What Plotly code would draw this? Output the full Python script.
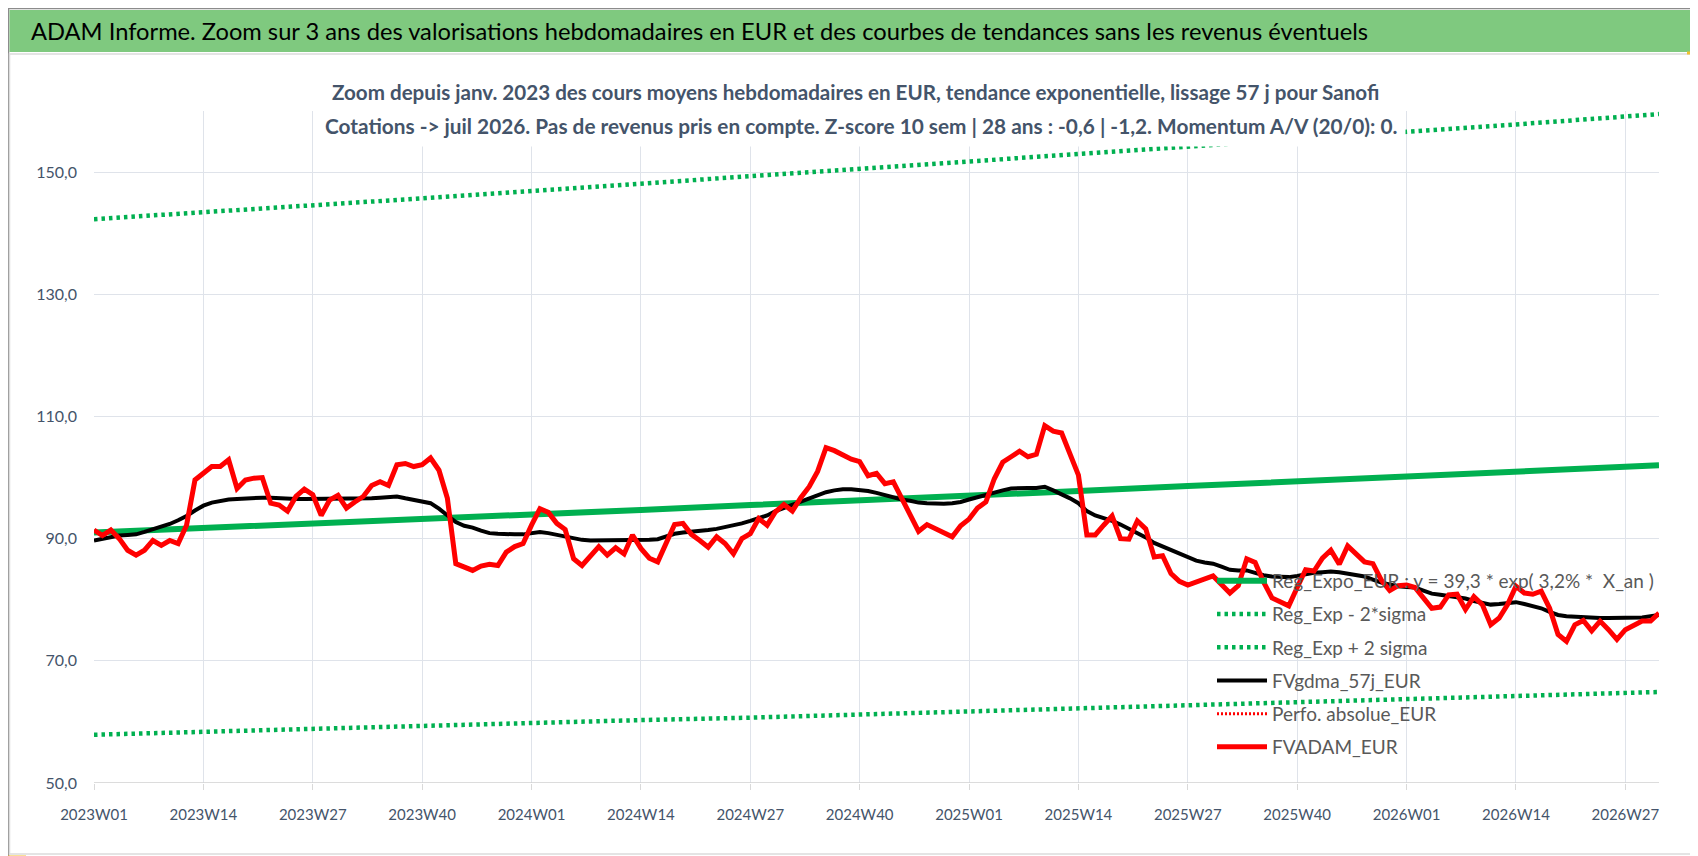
import plotly.graph_objects as go

# ==========================================
# 1. Données
# ==========================================
semaines = [f"{a}W{s:02d}" for a in (2023, 2024, 2025) for s in range(1, 53)]
semaines += [f"2026W{s:02d}" for s in range(1, 32)]

etiquettes_x = semaines[::13]

fvadam_eur = [
    91.4, 90.5, 91.4, 90.0, 88.1, 87.3, 88.1, 89.7, 88.9, 89.7,
    89.2, 92.2, 99.6, 100.7, 101.8, 101.8, 102.9, 98.2, 99.6, 99.9,
    100.0, 95.8, 95.5, 94.5, 96.9, 98.1, 97.2, 93.8, 96.3, 97.1,
    95.0, 96.0, 96.9, 98.7, 99.3, 98.7, 102.1, 102.3, 101.8, 102.1,
    103.2, 101.2, 96.6, 85.9, 85.3, 84.8, 85.5, 85.8, 85.6, 87.8,
    88.7, 89.2, 92.2, 94.9, 94.3, 92.5, 91.5, 86.7, 85.6, 87.3,
    88.7, 87.3, 88.5, 87.5, 90.6, 88.4, 86.8, 86.2, 89.5, 92.3,
    92.5, 90.7, 89.7, 88.6, 90.3, 89.2, 87.5, 90.0, 90.8, 93.3,
    92.2, 94.4, 95.6, 94.5, 96.7, 98.5, 101.0, 104.9, 104.4, 103.7,
    103.0, 102.6, 100.3, 100.7, 99.0, 99.3, 96.5, 93.6, 91.2, 92.3,
    91.6, 91.1, 90.3, 92.1, 93.2, 95.0, 96.0, 99.8, 102.5, 103.4,
    104.3, 103.4, 103.8, 108.5, 107.6, 107.3, 103.7, 100.4, 90.6, 90.6,
    92.2, 93.7, 90.0, 89.9, 92.9, 91.6, 87.0, 87.2, 84.3, 83.0,
    82.4, 82.9, 83.4, 83.9, 82.5, 81.1, 82.3, 86.7, 86.1, 82.9,
    80.3, 79.7, 79.0, 82.0, 84.9, 84.7, 86.8, 88.1, 85.8, 88.8,
    87.4, 86.2, 85.9, 83.2, 81.5, 82.3, 82.4, 82.0, 80.3, 78.6,
    78.8, 80.8, 80.9, 78.4, 80.5, 79.2, 75.9, 77.0, 79.2, 82.2,
    81.1, 80.9, 81.4, 78.6, 74.3, 73.2, 75.9, 76.6, 74.9, 76.5,
    75.1, 73.5, 75.1, 75.7, 76.5, 76.5, 77.8,
]

fvgdma_57j_eur = [
    89.7, 90.0, 90.3, 90.5, 90.6, 90.7, 91.1, 91.5, 91.9, 92.4,
    93.0, 93.7, 94.6, 95.4, 95.9, 96.2, 96.4, 96.5, 96.6, 96.7,
    96.7, 96.7, 96.6, 96.5, 96.5, 96.5, 96.5, 96.5, 96.5, 96.5,
    96.6, 96.6, 96.6, 96.6, 96.7, 96.8, 96.9, 96.6, 96.3, 96.0,
    95.8, 94.9, 93.8, 92.7, 92.1, 91.8, 91.3, 90.9, 90.8, 90.7,
    90.7, 90.7, 90.9, 91.1, 90.9, 90.6, 90.4, 90.1, 89.8, 89.7,
    89.7, 89.7, 89.7, 89.7, 89.7, 89.8, 89.8, 89.9, 90.3, 90.8,
    91.0, 91.1, 91.2, 91.4, 91.6, 91.9, 92.1, 92.5, 92.9, 93.3,
    93.8, 94.5, 95.0, 95.5, 96.0, 96.5, 97.0, 97.6, 97.9, 98.1,
    98.1, 98.0, 97.8, 97.5, 97.1, 96.8, 96.4, 96.2, 95.9, 95.8,
    95.7, 95.7, 95.8, 96.0, 96.4, 96.8, 97.1, 97.5, 97.9, 98.2,
    98.3, 98.3, 98.3, 98.5, 97.9, 97.3, 96.6, 95.8, 94.5, 93.8,
    93.4, 92.9, 92.3, 91.6, 90.9, 90.2, 89.3, 88.7, 88.1, 87.5,
    86.9, 86.4, 86.1, 85.9, 85.4, 84.9, 84.8, 84.8, 84.4, 84.0,
    83.8, 83.7, 83.7, 83.9, 84.2, 84.4, 84.5, 84.6, 84.5, 84.3,
    84.1, 83.8, 83.3, 82.8, 82.5, 82.2, 82.1, 82.0, 81.5, 81.0,
    80.8, 80.6, 80.5, 80.2, 79.8, 79.5, 79.2, 79.3, 79.5, 79.6,
    79.3, 78.9, 78.6, 78.0, 77.5, 77.3, 77.2, 77.1, 77.1, 77.0,
    77.0, 77.0, 77.0, 77.1, 77.1, 77.3, 77.5,
]

perfo_absolue_eur = [None]  # aucune valeur visible sur le graphique

# tendances : lues aux semaines étiquetées + dernière semaine
semaines_reg = etiquettes_x + [semaines[-1]]
reg_expo_eur = [91.0, 91.7, 92.5, 93.2, 94.0, 94.7, 95.5, 96.2, 97.0,
                97.8, 98.6, 99.4, 100.1, 100.9, 101.8, 102.0]
reg_moins_2s = [57.9, 58.4, 58.8, 59.3, 59.8, 60.3, 60.7, 61.2, 61.7,
                62.2, 62.7, 63.2, 63.7, 64.2, 64.7, 64.9]
reg_plus_2s = [142.3, 143.4, 144.6, 145.7, 146.9, 148.1, 149.3, 150.5, 151.7,
               152.9, 154.1, 155.3, 156.6, 157.8, 159.1, 159.5]

# ==========================================
# 2. Mise en page (pixels -> coordonnées papier)
# ==========================================
W, H = 1698, 856
ML, MR, MT, MB = 86, 47, 103, 81
PW, PH = W - ML - MR, H - MT - MB


def px(x):
    return (x - ML) / PW


def py(y):
    return 1 - (y - MT) / PH


POLICE = "Lato, Noto Sans, sans-serif"
VERT = "#00B050"
GRIS_TXT = "#44546A"
POINTILLE = "3.5px,4px"

fig = go.Figure()

fig.add_trace(go.Scatter(
    x=semaines_reg, y=reg_expo_eur, mode="lines", legendgroup="a",
    name="Reg_Expo_EUR : y = 39,3 * exp( 3,2% *\u00a0 X_an )",
    line=dict(color=VERT, width=6)))
fig.add_trace(go.Scatter(
    x=semaines_reg, y=reg_moins_2s, mode="lines", legendgroup="b",
    name="Reg_Exp - 2*sigma",
    line=dict(color=VERT, width=4.5, dash=POINTILLE)))
fig.add_trace(go.Scatter(
    x=semaines_reg, y=reg_plus_2s, mode="lines", legendgroup="c",
    name="Reg_Exp + 2 sigma",
    line=dict(color=VERT, width=4.5, dash=POINTILLE)))
fig.add_trace(go.Scatter(
    x=semaines, y=fvgdma_57j_eur, mode="lines", legendgroup="d",
    name="FVgdma_57j_EUR", line=dict(color="black", width=4)))
fig.add_trace(go.Scatter(
    x=semaines[:len(perfo_absolue_eur)], y=perfo_absolue_eur, mode="lines",
    legendgroup="e", name="Perfo. absolue_EUR",
    line=dict(color="#FF0000", width=3, dash="2px,2px")))
fig.add_trace(go.Scatter(
    x=semaines, y=fvadam_eur, mode="lines", legendgroup="f",
    name="FVADAM_EUR", line=dict(color="#FF0000", width=5)))

# cadre, bandeau vert, marques jaunes
shapes = [
    dict(type="rect", xref="paper", yref="paper", x0=px(0.5), x1=px(W - 0.5),
         y0=py(0.5), y1=py(H - 0.5), line=dict(color="#8c8c8c", width=1.5), layer="below"),
    dict(type="rect", xref="paper", yref="paper", x0=px(1.5), x1=px(1696), y0=py(2),
         y1=py(44), fillcolor="#7FC97F", line=dict(width=0), layer="below"),
    dict(type="rect", xref="paper", yref="paper", x0=px(1.5), x1=px(1692), y0=py(46),
         y1=py(846), line=dict(color="#dcdcdc", width=1.5), layer="below"),
    dict(type="path", xref="paper", yref="paper",
         path=f"M{px(1679)},{py(45)} L{px(1694)},{py(45)} L{px(1694)},{py(58)}",
         line=dict(color="#F2C12E", width=3)),
    dict(type="path", xref="paper", yref="paper",
         path=f"M{px(1694)},{py(746)} L{px(1694)},{py(850)} L{px(1668)},{py(850)}",
         line=dict(color="#F2C12E", width=3)),
    dict(type="line", xref="paper", yref="paper", x0=px(0), x1=px(18), y0=py(849),
         y1=py(849), line=dict(color="#F2C12E", width=3)),
    dict(type="line", xref="paper", yref="paper", x0=px(656), x1=px(770), y0=py(851),
         y1=py(851), line=dict(color="#F4EE7A", width=2)),
]

annotations = [
    dict(text="ADAM Informe. Zoom sur 3 ans des valorisations hebdomadaires en EUR "
              "et des courbes de tendances sans les revenus éventuels",
         xref="paper", yref="paper", x=px(21), y=py(23), xanchor="left", yanchor="middle",
         showarrow=False, font=dict(family=POLICE, size=23.7, color="black")),
    dict(text="<b>Zoom depuis janv. 2023 des cours moyens hebdomadaires en EUR, "
              "tendance exponentielle, lissage 57 j pour Sanofi</b>",
         xref="paper", yref="paper", x=px(847), y=py(84), xanchor="center", yanchor="middle",
         showarrow=False, bgcolor="white", borderpad=3,
         font=dict(family=POLICE, size=20.6, color=GRIS_TXT)),
    dict(text="<b>Cotations -&gt; juil 2026. Pas de revenus pris en compte. Z-score 10 sem | "
              "28 ans : -0,6 | -1,2. Momentum A/V (20/0): 0.</b>",
         xref="paper", yref="paper", x=px(853), y=py(117), xanchor="center", yanchor="middle",
         showarrow=False, bgcolor="white", borderpad=8,
         font=dict(family=POLICE, size=20.8, color=GRIS_TXT)),
]

fig.update_layout(
    width=W, height=H,
    margin=dict(l=ML, r=MR, t=MT, b=MB, autoexpand=False),
    paper_bgcolor="white", plot_bgcolor="white",
    separators=", ",
    showlegend=True,
    legend=dict(x=px(1204), y=py(554), xanchor="left", yanchor="top",
                bgcolor="rgba(0,0,0,0)", itemwidth=50, tracegroupgap=5.5,
                font=dict(family=POLICE, size=19, color="#595959")),
    shapes=shapes,
    annotations=annotations,
    hovermode=False,
)

fig.update_xaxes(
    type="category", categoryorder="array", categoryarray=semaines,
    range=[0, len(semaines) - 1], automargin=False,
    tickmode="array", tickvals=etiquettes_x, ticktext=etiquettes_x,
    showgrid=True, gridcolor="#dfe3ea", gridwidth=1,
    ticks="outside", ticklen=6, tickcolor="#d9d9d9", ticklabelstandoff=12,
    showline=False, zeroline=False, tickangle=0,
    tickfont=dict(family=POLICE, size=15, color=GRIS_TXT),
)
fig.update_yaxes(
    range=[50, 160], tick0=50, dtick=20, tickformat=".1f", automargin=False,
    showgrid=True, gridcolor="#dfe3ea", gridwidth=1,
    zeroline=False, showline=False, ticks="", ticklabelstandoff=16,
    tickfont=dict(family=POLICE, size=16, color=GRIS_TXT),
)
fig.add_hline(y=50, line=dict(color="#d0d0d0", width=1.5))

fig.write_html("out.html")
